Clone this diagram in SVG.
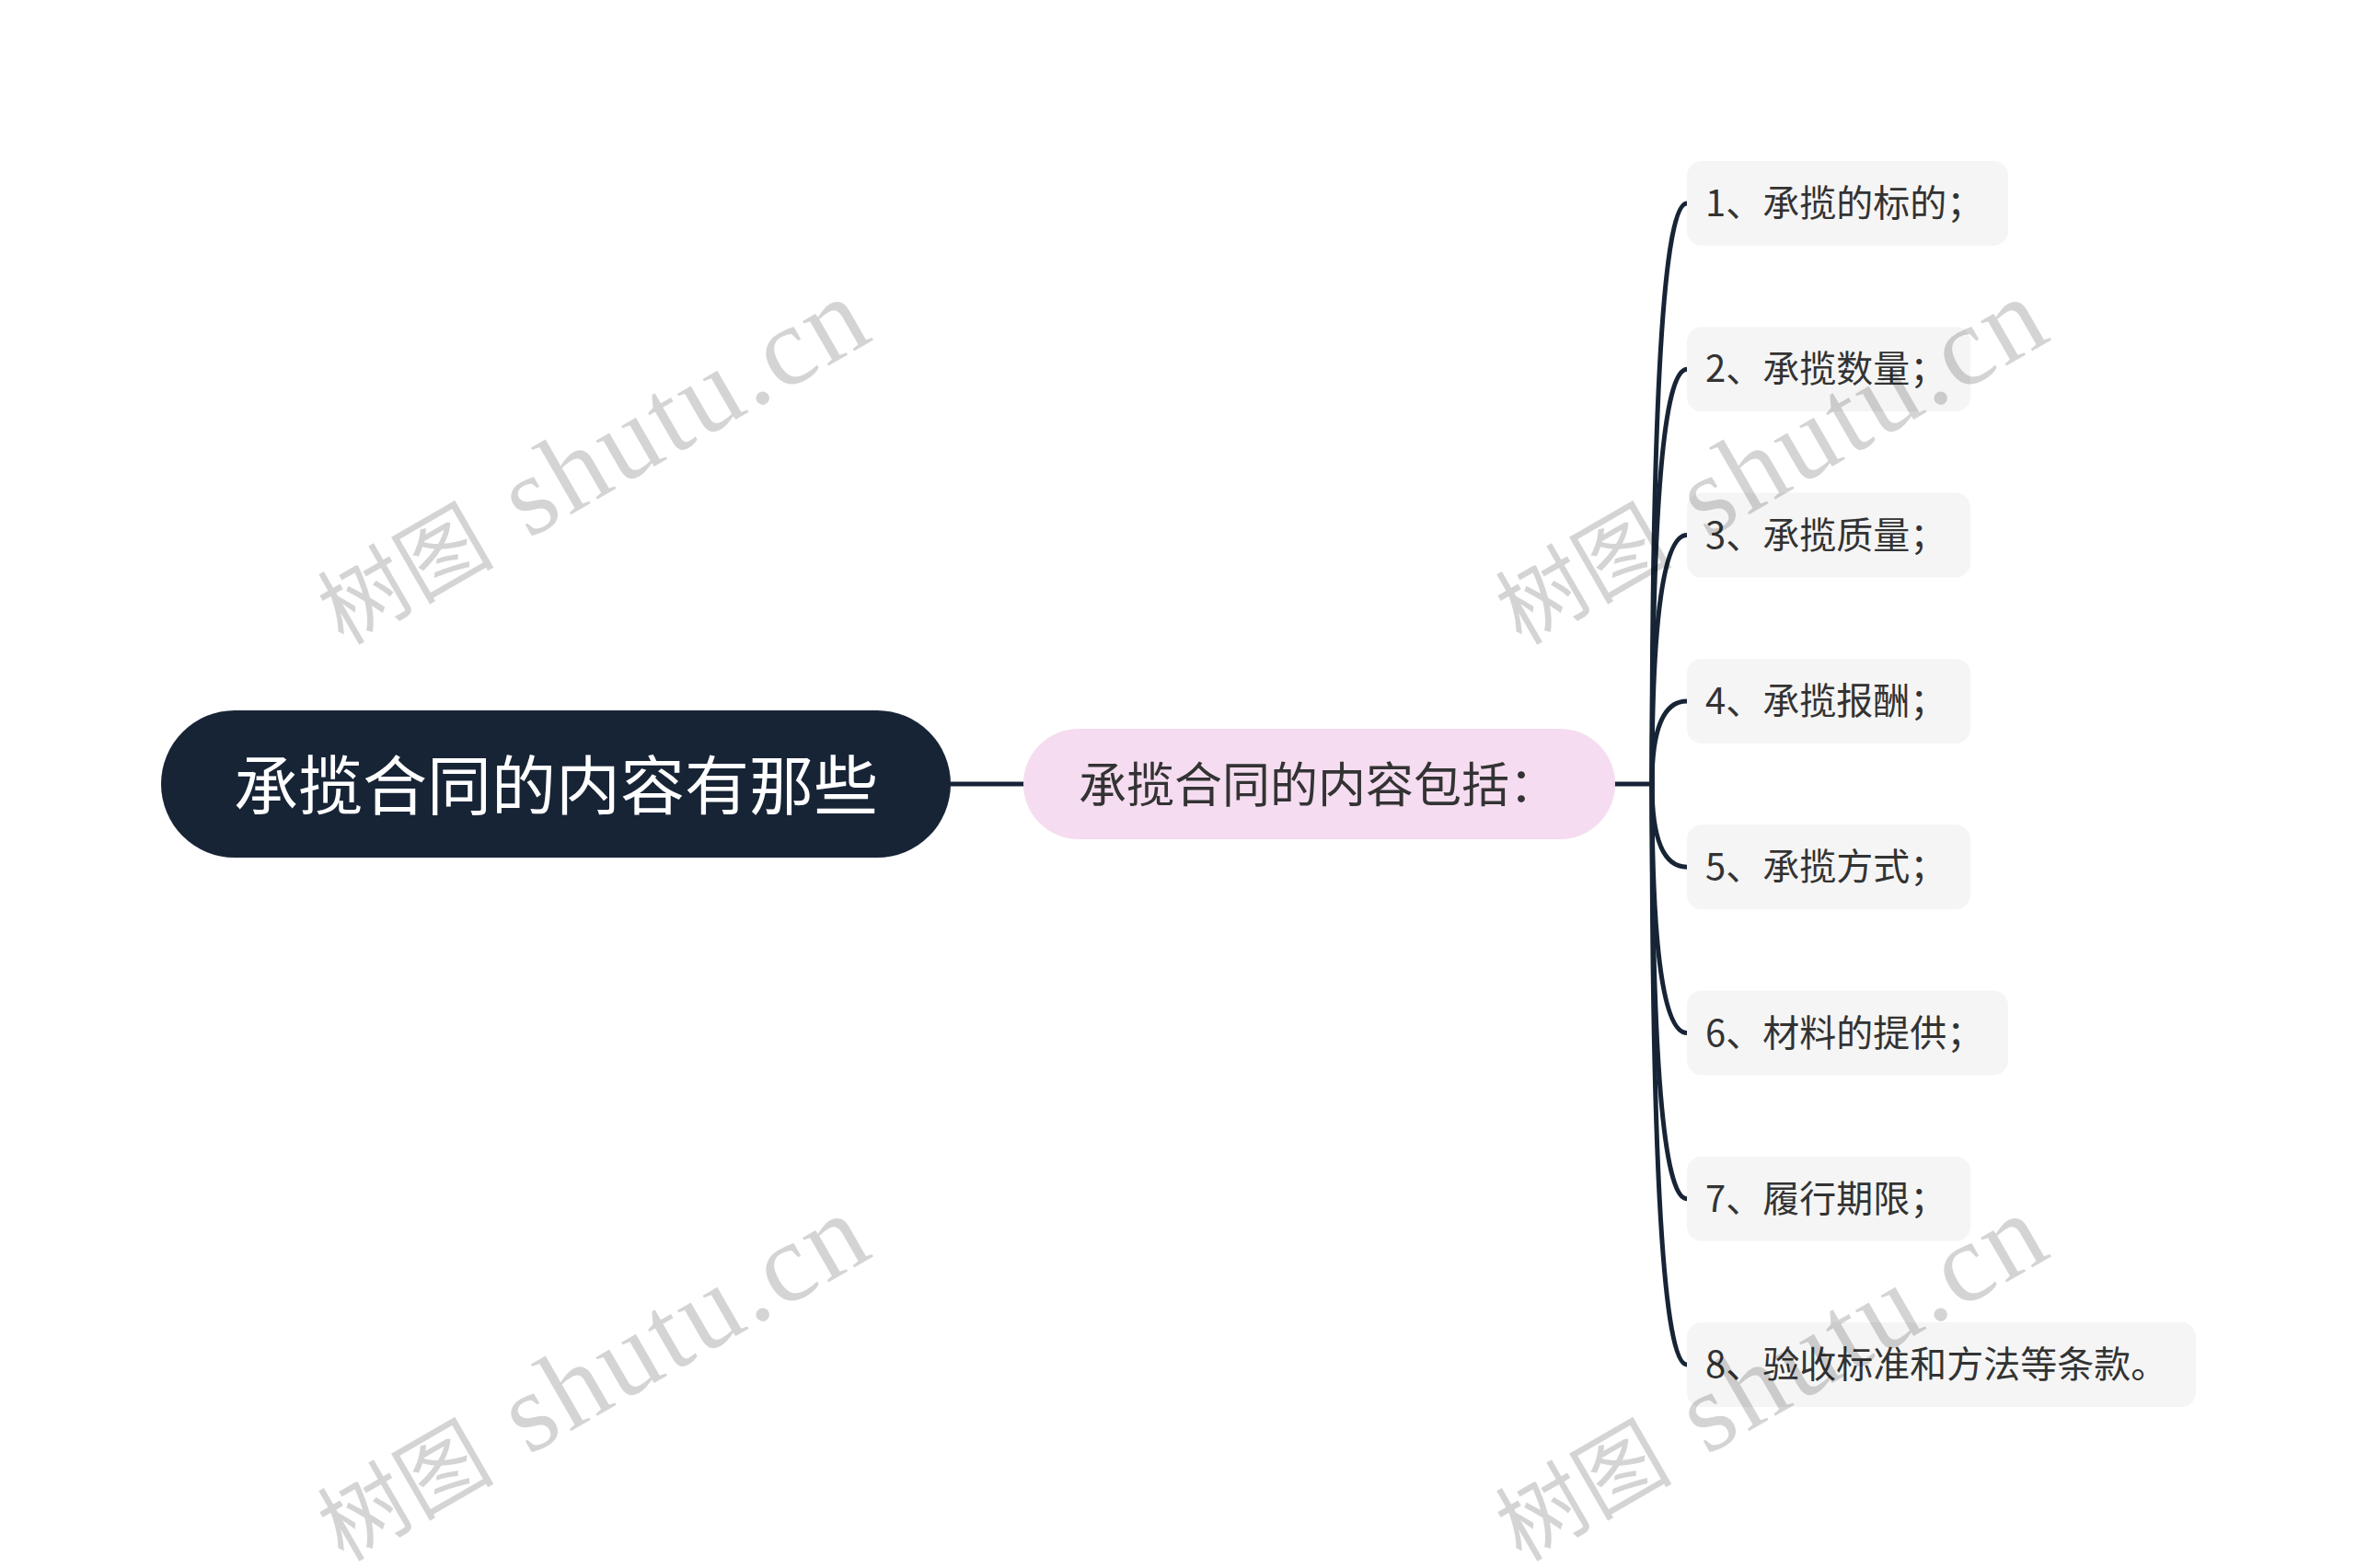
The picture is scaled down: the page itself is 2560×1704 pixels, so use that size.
<svg xmlns="http://www.w3.org/2000/svg" width="2560" height="1704" viewBox="0 0 2560 1704">
<style>
.conn{fill:none;stroke:#172436;stroke-width:5;stroke-linecap:round}
.leaf rect{fill:#f5f5f5}
.leaf text{font-family:"Noto Sans CJK SC","Noto Sans",sans-serif;font-size:40px;fill:#333333;dominant-baseline:central}
.wm{fill:#000;fill-opacity:0.17}
.wmc{font-family:"Liberation Serif","Noto Sans CJK SC",serif;font-size:96px}
.wml{font-family:"Liberation Serif",serif;font-size:122px}
</style>
<rect width="2560" height="1704" fill="#ffffff"/>
<g id="connectors">
<path class="conn" d="M1033 852 L1112 852"/>
<path class="conn" d="M1755 852 L1795 852"/>
<path class="conn" d="M1795 852 Q1795 221 1833 221"/>
<path class="conn" d="M1795 852 Q1795 401.3 1833 401.3"/>
<path class="conn" d="M1795 852 Q1795 581.6 1833 581.6"/>
<path class="conn" d="M1795 852 Q1795 761.9 1833 761.9"/>
<path class="conn" d="M1795 852 Q1795 942.2 1833 942.2"/>
<path class="conn" d="M1795 852 Q1795 1122.5 1833 1122.5"/>
<path class="conn" d="M1795 852 Q1795 1302.8 1833 1302.8"/>
<path class="conn" d="M1795 852 Q1795 1483.1 1833 1483.1"/>
</g>
<g id="root">
<rect x="175" y="772" width="858" height="160" rx="80" fill="#172436"/>
<text x="604" y="849" text-anchor="middle" dominant-baseline="central" font-family="'Noto Sans CJK SC','Noto Sans',sans-serif" font-size="70" fill="#ffffff">承揽合同的内容有那些</text>
</g>
<g id="mid">
<rect x="1112" y="792" width="643" height="120" rx="60" fill="#f5dcf0"/>
<text x="1432" y="849" text-anchor="middle" dominant-baseline="central" font-family="'Noto Sans CJK SC','Noto Sans',sans-serif" font-size="52" fill="#333333">承揽合同的内容包括：</text>
</g>
<g id="leaf1" class="leaf"><rect x="1833" y="175" width="349" height="92" rx="16"/><text x="1853" y="218">1、承揽的标的；</text></g>
<g id="leaf2" class="leaf"><rect x="1833" y="355.3" width="308" height="92" rx="16"/><text x="1853" y="398.3">2、承揽数量；</text></g>
<g id="leaf3" class="leaf"><rect x="1833" y="535.6" width="308" height="92" rx="16"/><text x="1853" y="578.6">3、承揽质量；</text></g>
<g id="leaf4" class="leaf"><rect x="1833" y="715.9" width="308" height="92" rx="16"/><text x="1853" y="758.9">4、承揽报酬；</text></g>
<g id="leaf5" class="leaf"><rect x="1833" y="896.2" width="308" height="92" rx="16"/><text x="1853" y="939.2">5、承揽方式；</text></g>
<g id="leaf6" class="leaf"><rect x="1833" y="1076.5" width="349" height="92" rx="16"/><text x="1853" y="1119.5">6、材料的提供；</text></g>
<g id="leaf7" class="leaf"><rect x="1833" y="1256.8" width="308" height="92" rx="16"/><text x="1853" y="1299.8">7、履行期限；</text></g>
<g id="leaf8" class="leaf"><rect x="1833" y="1437.1" width="553" height="92" rx="16"/><text x="1853" y="1480.1">8、验收标准和方法等条款。</text></g>
<g id="watermarks" class="wm">
<g transform="translate(373,702) rotate(-30)"><text class="wmc" x="0" y="0">树图</text><text class="wml" x="232" y="0" textLength="435" lengthAdjust="spacing">shutu.cn</text></g>
<g transform="translate(1653,702) rotate(-30)"><text class="wmc" x="0" y="0">树图</text><text class="wml" x="232" y="0" textLength="435" lengthAdjust="spacing">shutu.cn</text></g>
<g transform="translate(373,1698) rotate(-30)"><text class="wmc" x="0" y="0">树图</text><text class="wml" x="232" y="0" textLength="435" lengthAdjust="spacing">shutu.cn</text></g>
<g transform="translate(1653,1698) rotate(-30)"><text class="wmc" x="0" y="0">树图</text><text class="wml" x="232" y="0" textLength="435" lengthAdjust="spacing">shutu.cn</text></g>
</g>
</svg>
